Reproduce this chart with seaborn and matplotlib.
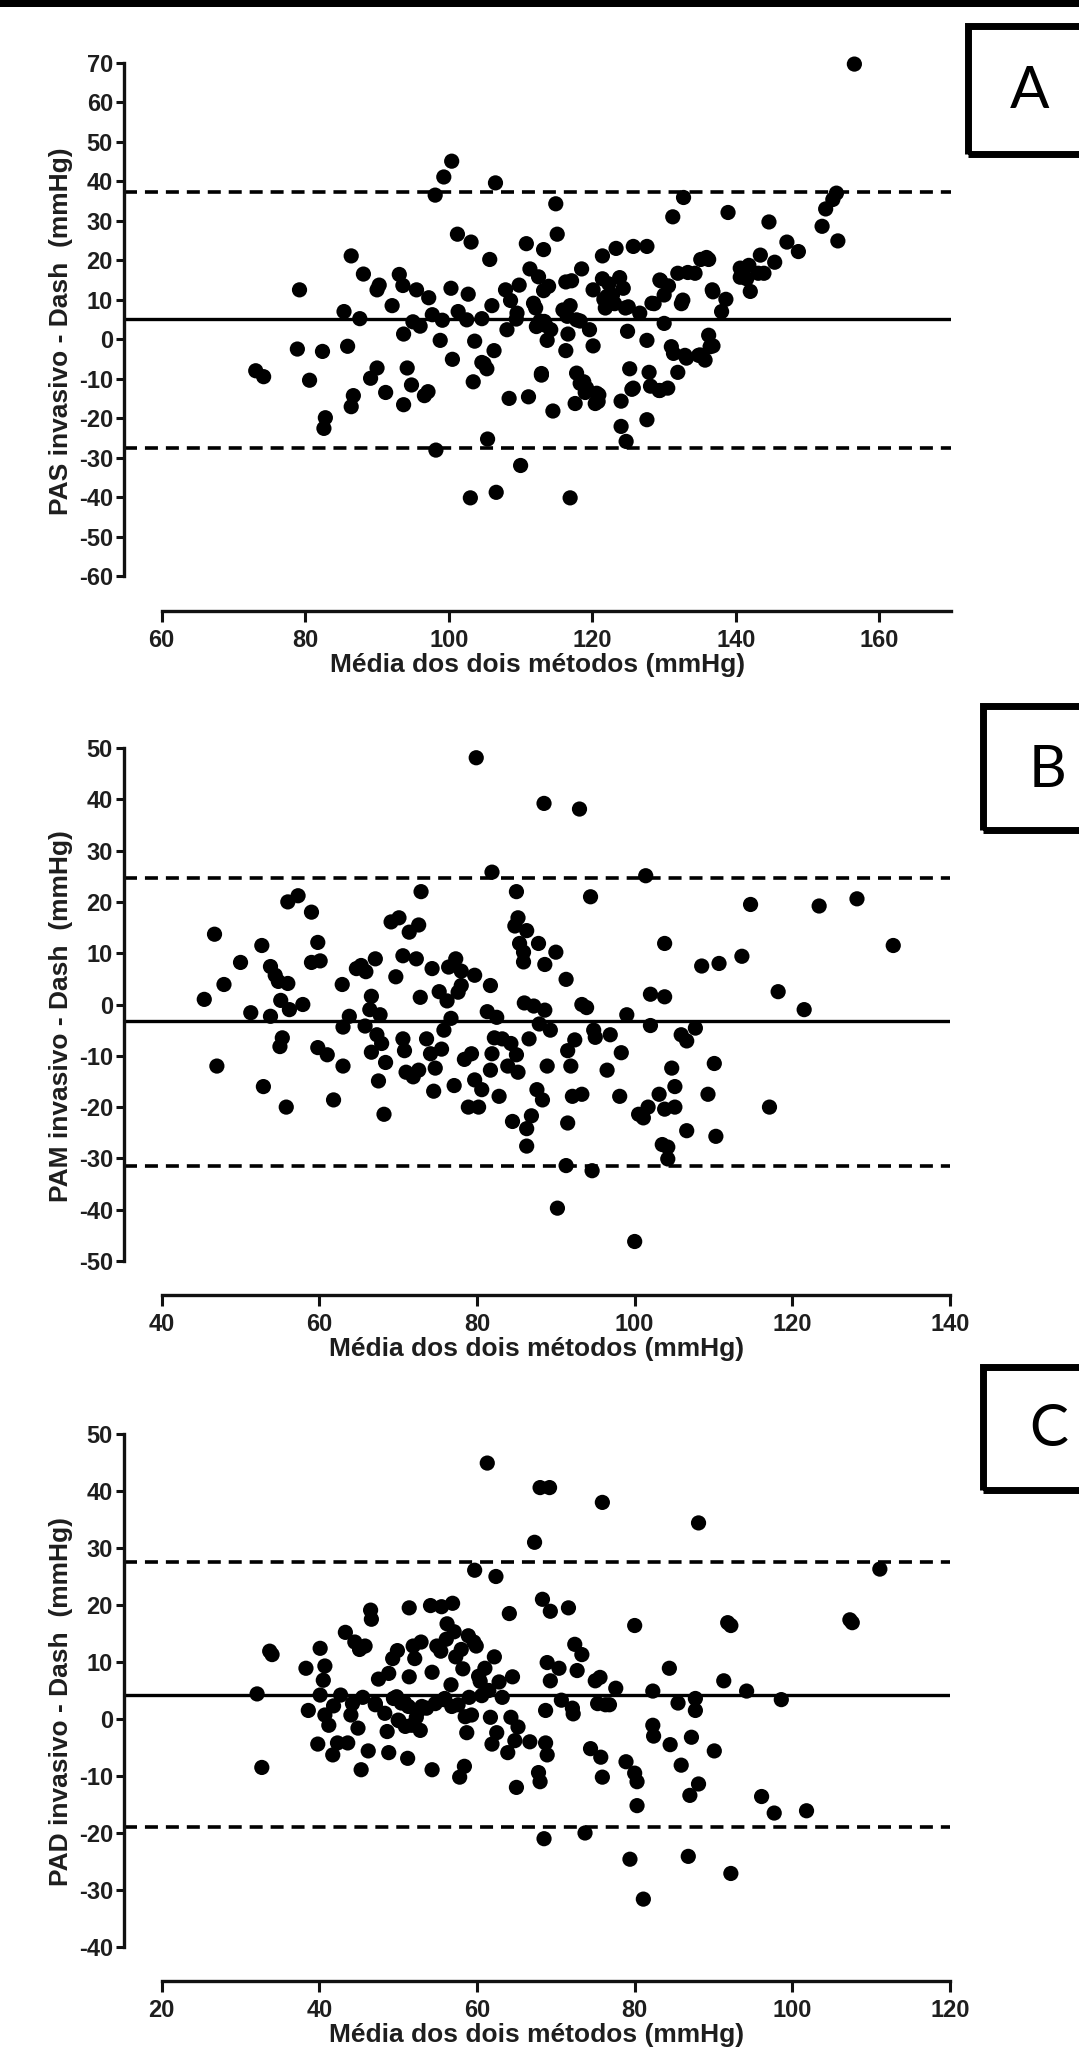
import matplotlib
matplotlib.use("Agg")
import matplotlib.pyplot as plt
import seaborn as sns
from matplotlib.patches import Rectangle

# ---------------- data ----------------
# Panel A (PAS)
pas_x = [73.1, 74.2, 78.9, 79.2, 80.6, 82.4, 82.8, 82.6, 85.4, 85.9, 86.4, 86.7, 86.4, 87.6, 88.1,
         89.1, 90.0, 90.3, 90.0, 91.2, 92.1, 93.1, 93.6, 93.7, 94.2, 93.7, 94.8, 95.0, 95.5, 96.0,
         96.6, 97.1, 97.2, 97.7, 98.1, 98.2, 98.8, 99.1, 99.3, 100.4, 100.3, 100.5, 101.2, 101.3, 102.7,
         103.0, 103.1, 103.4, 103.6, 104.6, 104.9, 105.3, 105.4, 105.7, 106.0, 106.3, 106.5, 106.6, 107.9, 108.1,
         108.4, 108.6, 109.4, 109.8, 110.0, 110.8, 111.1, 111.3, 112.1, 112.7, 112.9, 113.2, 113.2, 113.5, 113.7,
         113.9, 114.2, 114.9, 115.1, 114.5, 115.9, 116.3, 116.6, 116.3, 116.9, 116.9, 117.6, 117.8, 118.3, 118.5,
         118.8, 119.0, 119.6, 120.1, 120.1, 120.4, 120.9, 121.4, 121.4, 121.6, 121.8, 122.3, 122.8, 123.1, 123.3,
         123.8, 124.0, 124.0, 124.3, 124.6, 124.7, 124.9, 125.2, 125.5, 125.7, 126.6, 127.6, 127.6, 127.6, 127.9,
         128.1, 128.6, 129.3, 129.5, 130.0, 130.0, 130.5, 131.0, 131.2, 131.9, 131.9, 132.4, 132.7, 132.9, 133.3,
         134.3, 134.8, 135.1, 135.7, 136.2, 136.2, 136.4, 136.7, 138.0, 138.6, 138.9, 141.5, 141.8, 142.0, 143.4,
         143.9, 144.6, 145.4, 147.1, 148.7, 152.0, 152.5, 153.5, 154.0, 154.2, 156.5,
         112.5, 117.1, 122.0, 122.9, 125.0, 109.5, 111.8, 112.2, 113.3, 116.5, 117.8, 102.5, 104.6, 112.9,
         118.3, 119.2, 120.6, 120.8, 125.7, 140.6, 140.6, 143.1, 136.8, 132.6, 135.9, 135.0, 129.4, 130.6,
         128.3, 131.3, 133.1, 136.8, 129.4]
pas_y = [-8.0, -9.5, -2.5, 12.5, -10.4, -3.1, -19.9, -22.6, 7.0, -1.8, 21.1, -14.3, -17.1, 5.2, 16.5,
         -9.9, 12.5, 13.7, -7.3, -13.5, 8.5, 16.4, 13.6, 1.3, -7.3, -16.6, -11.6, 4.4, 12.5, 3.3,
         -14.3, -13.3, 10.5, 6.2, 36.5, -28.1, -0.3, 4.8, 41.1, 45.1, 12.9, -5.1, 26.6, 7.0, 11.4,
         -40.2, 24.6, -10.8, -0.5, 5.2, -6.2, -7.5, -25.3, 20.2, 8.5, -2.9, 39.6, -38.8, 12.5, 2.4,
         -15.0, 9.8, 5.1, 13.7, -32.0, 24.2, -14.6, 17.8, 7.9, 4.6, -9.1, 22.7, 12.3, 3.5, -0.3,
         13.4, 2.4, 34.3, 26.6, -18.2, 7.4, 14.5, 1.3, -2.9, -40.2, 8.5, -16.3, -8.6, 4.6, 17.8,
         -10.8, -13.5, 2.4, -1.7, 12.5, -16.3, -14.1, 21.1, 15.3, 10.1, 7.9, 14.0, 11.2, 9.0, 23.0,
         15.6, -22.1, -15.7, 12.9, 7.9, -25.9, 2.0, -7.5, -12.7, 23.5, 6.6, 23.5, -0.3, -20.4, -8.4,
         -11.9, 9.0, -13.0, 14.8, 4.0, 11.2, -12.4, -1.9, 31.0, -8.4, 16.7, 9.0, 35.9, -4.1, 16.9,
         16.7, -4.1, 20.2, -5.3, 20.2, 1.0, -1.9, 12.5, 7.0, 10.1, 32.1, 15.3, 18.7, 12.1, 21.3,
         16.7, 29.7, 19.5, 24.6, 22.2, 28.6, 33.0, 35.4, 37.0, 24.9, 69.7,
         15.8, 14.8, 10.8, 9.1, 8.2, 6.6, 9.1, 3.2, 4.5, 5.8, 4.9, 4.9, -5.9, -8.7,
         -11.2, -12.4, -13.7, -15.8, -12.4, 15.7, 18.0, 16.7, 12.0, 9.9, 20.7, -4.0, 15.0, 13.5,
         9.1, -3.6, -4.8, -1.7, -13.0]
pas_mean, pas_upper, pas_lower = 5.0, 37.4, -27.5

# Panel B (PAM)
pam_x = [45.4, 46.7, 47.0, 47.9, 50.0, 51.3, 52.7, 52.9, 53.8, 53.8, 54.4, 55.1, 54.8, 55.3, 55.0,
         56.0, 55.8, 56.2, 56.0, 57.3, 57.9, 59.0, 59.0, 59.8, 60.1, 59.8, 61.0, 61.8, 62.9, 63.0,
         63.0, 63.8, 64.7, 65.3, 65.8, 65.9, 66.4, 66.6, 66.6, 67.1, 67.3, 67.5, 67.7, 67.9, 68.2,
         68.4, 69.1, 69.7, 70.1, 70.6, 70.6, 70.8, 71.0, 71.4, 71.9, 72.3, 72.6, 72.6, 72.9, 72.8,
         73.6, 74.1, 74.3, 74.5, 74.7, 75.2, 75.5, 75.8, 76.2, 76.4, 76.7, 77.1, 77.3, 77.6, 78.0,
         78.0, 78.4, 78.9, 79.3, 79.7, 79.9, 79.7, 80.2, 80.6, 81.3, 81.7, 81.7, 81.9, 81.9, 82.2,
         82.5, 82.8, 83.2, 83.9, 84.3, 84.5, 84.8, 85.0, 85.2, 85.0, 85.2, 85.4, 85.9, 85.9, 86.0,
         86.3, 86.3, 86.3, 86.6, 86.9, 87.2, 87.6, 87.8, 87.9, 88.3, 88.5, 88.6, 88.6, 88.9, 89.3,
         90.0, 90.2, 91.3, 91.5, 91.5, 91.3, 91.9, 92.1, 92.4, 93.0, 93.3, 93.3, 93.9, 94.4, 94.6,
         94.8, 95.0, 96.5, 96.9, 98.1, 98.3, 99.0, 100.0, 100.5, 101.1, 101.4, 101.7, 102.0, 102.0, 103.1,
         103.5, 103.8, 103.8, 103.8, 104.2, 104.2, 104.7, 105.1, 105.1, 105.9, 106.6, 106.6, 107.7, 108.5, 109.3,
         110.1, 110.3, 110.7, 113.6, 114.7, 117.1, 118.2, 121.5, 123.4, 128.2, 132.8]
pam_y = [1.0, 13.7, -12.0, 3.9, 8.2, -1.6, 11.5, -16.0, 7.4, -2.3, 5.7, 0.8, 4.5, -6.5, -8.2,
         20.0, -20.0, -1.0, 4.1, 21.2, 0.0, 18.0, 8.2, 12.1, 8.5, -8.4, -9.8, -18.6, 3.9, -4.4,
         -12.0, -2.3, 7.0, 7.6, -4.2, 6.4, -1.0, 1.6, -9.3, 8.9, -5.9, -14.9, -2.0, -7.6, -21.4,
         -11.3, 16.1, 5.4, 16.9, 9.5, -6.7, -9.0, -13.2, 14.1, -14.1, 8.9, 15.5, -12.8, 22.0, 1.4,
         -6.7, -9.6, 7.0, -16.9, -12.4, 2.5, -8.7, -5.0, 0.7, 7.3, -2.7, -15.8, 8.9, 2.4, 3.7,
         6.5, -10.7, -20.0, -9.6, 5.7, 48.1, -14.7, -20.0, -16.6, -1.4, 3.7, -12.8, 25.8, -9.6, -6.5,
         -2.5, -17.9, -6.7, -12.0, -7.6, -22.8, 15.3, 22.0, 16.9, -9.8, -13.2, 11.9, 10.2, 8.3, 0.3,
         14.4, -24.2, -27.6, -6.7, -21.7, -0.3, -16.6, 11.9, -3.8, -18.6, 39.2, 7.8, -1.1, -12.0, -5.0,
         10.2, -39.7, 4.9, -9.0, -23.1, -31.4, -12.0, -17.9, -6.9, 38.1, -17.5, 0.0, -0.6, 21.0, -32.4,
         -5.0, -6.4, -12.8, -5.9, -17.9, -9.4, -2.0, -46.2, -21.4, -22.1, 25.1, -20.0, 2.0, -4.1, -17.5,
         -27.3, 1.5, 11.9, -20.4, -27.8, -30.1, -12.4, -16.0, -20.0, -5.9, -7.1, -24.6, -4.6, 7.5, -17.5,
         -11.5, -25.7, 8.0, 9.4, 19.5, -20.0, 2.5, -1.0, 19.2, 20.6, 11.5]
pam_mean, pam_upper, pam_lower = -3.3, 24.6, -31.4

# Panel C (PAD)
pad_x = [32.1, 32.7, 33.7, 34.0, 38.3, 38.6, 39.8, 40.1, 40.5, 40.7, 40.1, 40.7, 41.2, 41.7, 41.8,
         42.3, 42.7, 43.3, 43.6, 44.0, 44.2, 44.5, 44.9, 45.1, 45.3, 45.5, 45.8, 46.2, 46.5, 46.6,
         47.1, 47.5, 48.6, 48.8, 48.8, 49.3, 49.4, 49.9, 50.1, 50.8, 51.2, 51.4, 51.4, 51.7, 51.9,
         52.1, 52.3, 52.6, 52.8, 52.9, 53.6, 54.1, 54.3, 54.3, 54.7, 54.9, 55.4, 55.5, 55.8, 56.1,
         56.2, 56.7, 56.9, 57.1, 57.3, 57.6, 57.8, 58.0, 58.2, 58.4, 58.7, 58.9, 59.0, 59.3, 59.6,
         59.7, 59.9, 60.2, 60.4, 60.6, 61.0, 61.3, 61.5, 61.7, 61.9, 62.2, 62.4, 62.5, 62.8, 63.2,
         63.9, 64.1, 64.3, 64.5, 64.8, 65.0, 65.2, 66.7, 67.3, 67.8, 68.0, 68.0, 68.3, 68.5, 68.7,
         68.7, 68.9, 69.2, 68.9, 69.3, 69.3, 70.7, 70.4, 71.6, 72.1, 72.2, 72.4, 72.7, 73.3, 73.7,
         74.4, 75.0, 75.3, 75.6, 75.7, 75.9, 75.9, 76.3, 76.8, 77.6, 78.9, 79.4, 80.0, 80.0, 80.3,
         80.3, 81.1, 82.3, 82.3, 82.4, 84.4, 84.5, 85.5, 85.9, 86.8, 87.0, 87.2, 87.7, 87.7, 88.1,
         88.1, 90.1, 91.3, 91.8, 92.2, 92.2, 94.2, 96.1, 97.7, 98.6, 101.8, 107.3, 107.6, 111.1,
         47.1, 48.3, 49.8, 50.4, 51.3, 53.0, 55.9, 56.8, 58.5, 50.0, 50.9]
pad_y = [4.4, -8.5, 11.9, 11.3, 8.9, 1.5, -4.4, 12.4, 6.8, 9.3, 4.2, 0.7, -1.1, -6.3, 2.3,
         -4.2, 4.2, 15.2, -4.2, 0.7, 2.7, 13.5, -1.6, 12.2, -8.9, 3.8, 12.8, -5.6, 19.1, 17.5,
         2.7, 7.0, -2.2, -5.9, 8.0, 10.6, 3.6, 12.0, -0.3, 2.9, -6.9, 19.5, 7.4, -1.1, 12.8,
         10.6, 0.3, 1.5, -2.0, 13.5, 1.9, 19.9, -8.9, 8.2, 2.7, 12.8, 11.9, 19.7, 3.4, 14.0,
         16.7, 6.0, 20.3, 15.3, 10.9, 2.5, -10.2, 12.2, 8.8, -8.3, -2.4, 14.6, 3.8, 0.7, 13.5,
         26.1, 12.8, 7.5, 6.6, 4.1, 8.9, 44.9, 5.0, 0.3, -4.4, 10.9, 25.0, -2.4, 6.5, 3.8,
         -5.9, 18.5, 0.3, 7.4, -3.8, -12.0, -1.4, -4.0, 31.0, -9.4, 40.6, -11.0, 21.0, -21.0, 1.5,
         -4.2, -6.3, 40.6, 9.9, 18.9, 6.7, 3.3, 8.9, 19.5, 1.9, 0.9, 13.1, 8.5, 11.3, -20.0,
         -5.2, 6.7, 2.7, 7.3, -6.7, 38.0, -10.2, 2.5, 2.5, 5.4, -7.5, -24.6, 16.4, -9.5, -11.0,
         -15.2, -31.6, 4.9, -1.1, -3.0, 8.9, -4.5, 2.8, -8.1, -24.1, -13.4, -3.2, 3.6, 1.5, 34.4,
         -11.4, -5.6, 6.7, 16.9, 16.4, -27.1, 4.9, -13.6, -16.5, 3.4, -16.1, 17.4, 16.9, 26.3,
         2.5, 1.0, 3.9, 2.8, 2.2, 2.2, 3.6, 2.2, 0.4, -0.2, -1.3]
pad_mean, pad_upper, pad_lower = 4.2, 27.5, -19.0

x_label = "Média dos dois métodos (mmHg)"
y_labels = ["PAS invasivo - Dash  (mmHg)", "PAM invasivo - Dash  (mmHg)", "PAD invasivo - Dash  (mmHg)"]
panel_letters = ["A", "B", "C"]

# ---------------- figure ----------------
sns.set_style("ticks")
plt.rcParams['font.family'] = ['Liberation Sans', 'DejaVu Sans']
plt.rcParams['axes.unicode_minus'] = False

W, H = 1079, 2060
fig = plt.figure(figsize=(W / 100, H / 100), dpi=100)
fig.patch.set_facecolor("white")

TXT = "#1e1e1e"


def make_axes(left_px, right_px, top_px, bottom_px):
    return fig.add_axes([left_px / W, 1 - bottom_px / H, (right_px - left_px) / W, (bottom_px - top_px) / H])


panels = [
    dict(x=pas_x, y=pas_y, m=pas_mean, up=pas_upper, lo=pas_lower,
         xt0=60, xt1=160, xp0=161.7, xp1=879.5, xmax=170, xticks=range(60, 161, 20),
         yt0=70, yt1=-60, yp0=62.9, yp1=576.0, ytop=73, bottom_px=611, yticks=range(-60, 71, 10),
         box=(968, 26, 154), letter_xy=(1030, 92)),
    dict(x=pam_x, y=pam_y, m=pam_mean, up=pam_upper, lo=pam_lower,
         xt0=40, xt1=140, xp0=161.7, xp1=950.0, xmax=140, xticks=range(40, 141, 20),
         yt0=50, yt1=-50, yp0=748.0, yp1=1261.0, ytop=52, bottom_px=1295, yticks=range(-50, 51, 10),
         box=(983, 706, 830), letter_xy=(1047, 770)),
    dict(x=pad_x, y=pad_y, m=pad_mean, up=pad_upper, lo=pad_lower,
         xt0=20, xt1=120, xp0=161.7, xp1=950.0, xmax=120, xticks=range(20, 121, 20),
         yt0=50, yt1=-40, yp0=1434.0, yp1=1947.0, ytop=52, bottom_px=1981, yticks=range(-40, 51, 10),
         box=(983, 1367, 1490), letter_xy=(1049, 1430)),
]

LEFT_PX = 124.0
for i, p in enumerate(panels):
    xs = (p["xp1"] - p["xp0"]) / (p["xt1"] - p["xt0"])
    ys = (p["yp1"] - p["yp0"]) / (p["yt0"] - p["yt1"])
    xmin = p["xt0"] - (p["xp0"] - LEFT_PX) / xs
    right_px = p["xp0"] + (p["xmax"] - p["xt0"]) * xs
    ymin = p["yt1"] - (p["bottom_px"] - p["yp1"]) / ys
    top_px = p["yp0"] - (p["ytop"] - p["yt0"]) * ys
    ax = make_axes(LEFT_PX, right_px, top_px, p["bottom_px"])
    ax.set_xlim(xmin, p["xmax"])
    ax.set_ylim(ymin, p["ytop"])

    ax.axhline(p["m"], color="black", lw=2.4, zorder=2)
    ax.axhline(p["up"], color="black", lw=2.6, dashes=(3.6, 2.2), zorder=2)
    ax.axhline(p["lo"], color="black", lw=2.6, dashes=(3.6, 2.2), zorder=2)

    sns.scatterplot(x=p["x"], y=p["y"], color="black", s=120, edgecolor="none",
                    linewidth=0, ax=ax, legend=False, zorder=3, clip_on=False)

    sns.despine(ax=ax)
    ax.spines["left"].set_bounds(p["yt1"], p["yt0"])
    ax.spines["bottom"].set_bounds(p["xt0"], p["xmax"])
    for s in ("left", "bottom"):
        ax.spines[s].set_linewidth(2.4)
        ax.spines[s].set_color("#111111")
    ax.set_xticks(list(p["xticks"]))
    ax.set_yticks(list(p["yticks"]))
    ax.tick_params(axis="y", length=6, width=2.2, pad=2, labelsize=17, colors="#111111", labelcolor=TXT)
    ax.tick_params(axis="x", length=8, width=2.2, pad=5, labelsize=17, colors="#111111", labelcolor=TXT)
    for lab in ax.get_xticklabels() + ax.get_yticklabels():
        lab.set_fontweight("bold")
    ax.set_xlabel(x_label, fontsize=19, fontweight="bold", color=TXT, labelpad=1)
    ax.set_ylabel(y_labels[i], fontsize=19, fontweight="bold", color=TXT, labelpad=4)
    ax.patch.set_alpha(0)

    # panel letter box
    bx, by0, by1 = p["box"]
    rect = Rectangle((bx / W, 1 - by1 / H), (W + 40 - bx) / W, (by1 - by0) / H,
                     transform=fig.transFigure, fill=False, edgecolor="black", lw=5, clip_on=False)
    fig.patches.append(rect)
    lx, ly = p["letter_xy"]
    fig.text(lx / W, 1 - ly / H, panel_letters[i], fontsize=42, family=["Lato", "DejaVu Sans"],
             ha="center", va="center", color="black")

# black band at top
fig.patches.append(Rectangle((0, 1 - 7 / H), 1, 7 / H, transform=fig.transFigure,
                             facecolor="black", edgecolor="none"))

fig.savefig("out.png", dpi=100, facecolor="white")
